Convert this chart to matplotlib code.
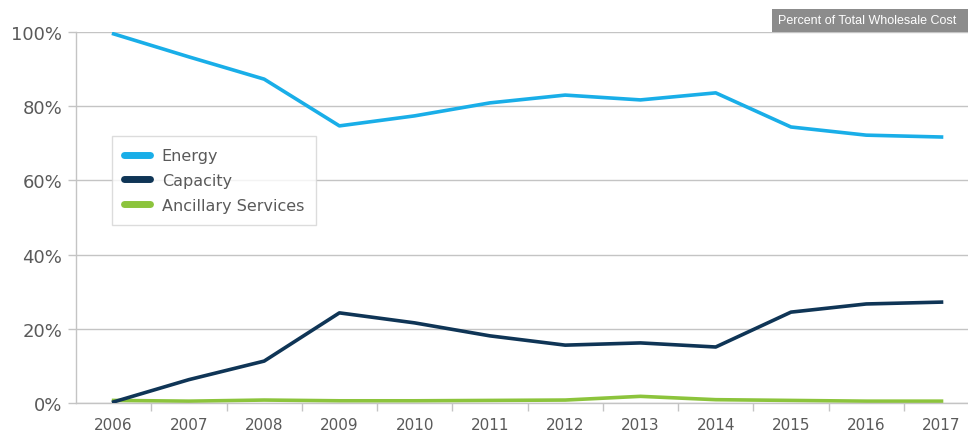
import matplotlib
matplotlib.use("Agg")
import matplotlib.pyplot as plt
from matplotlib.ticker import FuncFormatter, FixedLocator
from matplotlib.patches import Rectangle

years = [2006, 2007, 2008, 2009, 2010, 2011, 2012, 2013, 2014, 2015, 2016, 2017]
energy = [99.5, 93.3, 87.3, 74.7, 77.4, 80.9, 83.0, 81.7, 83.6, 74.4, 72.2, 71.7]
capacity = [0.3, 6.3, 11.3, 24.3, 21.6, 18.1, 15.6, 16.2, 15.1, 24.5, 26.7, 27.2]
ancillary = [0.7, 0.5, 0.8, 0.6, 0.6, 0.7, 0.8, 1.8, 0.9, 0.7, 0.5, 0.5]
y_ticks = [0, 20, 40, 60, 80, 100]
title_text = "Percent of Total Wholesale Cost"

grid_col = "#c4c4c4"
text_col = "#5a5a5a"
plt.rcParams['font.family'] = ['DejaVu Sans']

fig = plt.figure(figsize=(9.68, 4.31), dpi=100)
# right edge runs past the figure, so the last column is cut off
ax = fig.add_axes([0.0785, 0.0626, 0.933, 0.8608])

ax.plot(years, energy, color="#19aee8", lw=2.6, label="Energy", zorder=3)
ax.plot(years, capacity, color="#0f3556", lw=2.6, label="Capacity", zorder=3)
ax.plot(years, ancillary, color="#8cc43c", lw=2.6, label="Ancillary Services", zorder=2)

ax.set_xlim(2005.5, 2017.5)
ax.set_ylim(0, 100)
ax.set_xticks(years)
ax.xaxis.set_minor_locator(FixedLocator([y + 0.5 for y in years[:-1]]))
ax.set_yticks(y_ticks)
ax.yaxis.set_major_formatter(FuncFormatter(lambda v, p: f"{v:.0f}%"))
ax.tick_params(axis="x", which="major", length=0, pad=10, labelsize=11, labelcolor=text_col)
ax.tick_params(axis="x", which="minor", length=6, width=1, color=grid_col, direction="out")
ax.tick_params(axis="y", length=6, width=1, color=grid_col, pad=4, labelsize=13, labelcolor=text_col)

ax.grid(axis="y", color=grid_col, lw=1)
for s in ["top", "right"]:
    ax.spines[s].set_visible(False)
for s in ["left", "bottom"]:
    ax.spines[s].set_color(grid_col)
    ax.spines[s].set_linewidth(1)

leg = ax.legend(loc="upper left", bbox_to_anchor=(0.04, 0.72), frameon=True, fancybox=False,
                fontsize=11.5, handlelength=1.6, handleheight=0.6, labelspacing=0.62,
                borderpad=0.75, handletextpad=0.75, edgecolor="#d4d4d4", borderaxespad=0)
leg.get_frame().set_linewidth(1)
for t in leg.get_texts():
    t.set_color(text_col)
for h in leg.get_lines():
    h.set_linewidth(5)
    h.set_solid_capstyle("round")

# grey header tag in the top-right corner
fig.patches.append(Rectangle((772 / 968, 1 - 33 / 431), 200 / 968, 23 / 431,
                             transform=fig.transFigure, facecolor="#8c8c8c", edgecolor="none"))
fig.text(778 / 968, 1 - 21.5 / 431, title_text, color="white", fontsize=9,
         family=["Liberation Sans"], va="center", ha="left")

fig.savefig("out.png", dpi=100)
